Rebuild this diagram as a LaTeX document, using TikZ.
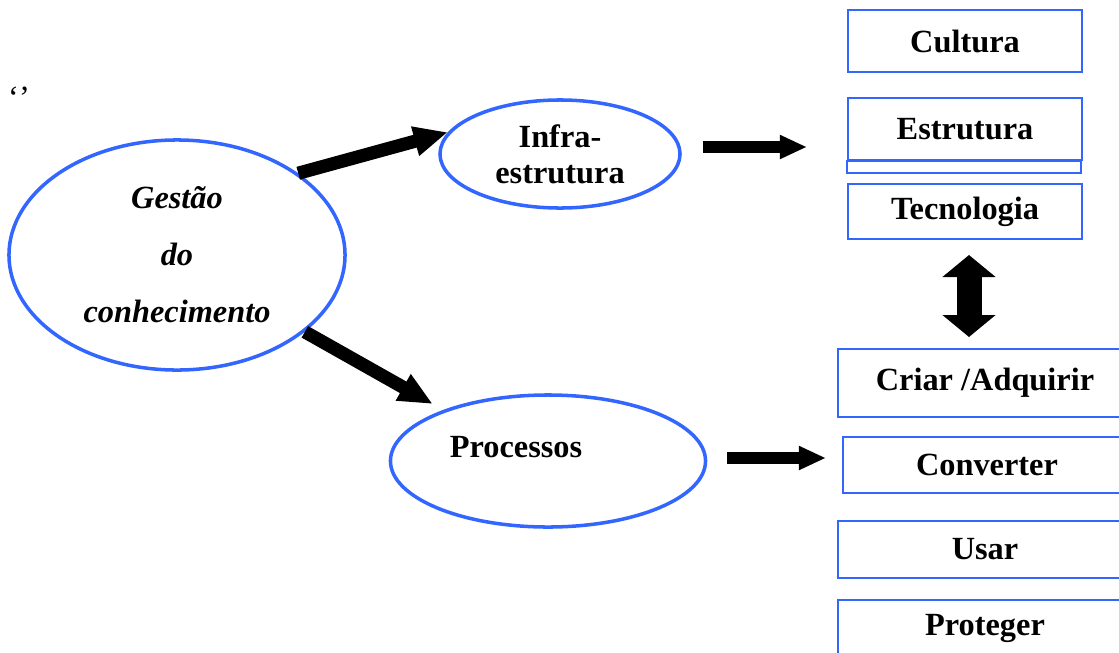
\documentclass[tikz,border=0pt]{standalone}
\usepackage{fontspec}
\setmainfont{Liberation Serif}
\usetikzlibrary{shapes.geometric,arrows.meta}
\definecolor{contorno}{RGB}{51,102,255}

\begin{document}
\begin{tikzpicture}[x=0.025cm, y=-0.025cm,
	caixa/.style={draw=contorno, line width=1.4pt, rectangle, inner sep=0pt,
		font=\fontsize{23}{26}\selectfont\bfseries},
	elipse/.style={draw=contorno, line width=2.5pt, ellipse, inner sep=0pt},
	seta/.style={line width=0.33cm, -{Triangle[length=0.85cm, width=0.7cm]}},
	setareta/.style={line width=0.28cm, -{Triangle[length=0.68cm, width=0.56cm]}},
	dupla/.style={line width=0.625cm, {Triangle[length=0.55cm, width=1.3cm]}-{Triangle[length=0.55cm, width=1.3cm]}}]
	\useasboundingbox (0,0) rectangle (1119,652);
	\clip (0,0) rectangle (1119,652);

	\node[font=\fontsize{23}{26}\selectfont] (aspas) at (19,98) {‘’};

	% elipses
	\node[elipse, minimum width=8.4cm, minimum height=5.75cm, align=center,
		font=\fontsize{23}{40.5}\selectfont\bfseries\itshape] (gestao) at (177,255)
		{Gestão\\do\\conhecimento};
	\node[elipse, minimum width=6cm, minimum height=2.7cm, align=center,
		font=\fontsize{23}{25.5}\selectfont\bfseries] (infra) at (560,154) {Infra-\\estrutura};
	\node[elipse, minimum width=7.875cm, minimum height=3.3cm] (processos) at (548,461) {};
	\node[font=\fontsize{23}{26}\selectfont\bfseries] (proclbl) at (516,447) {Processos};

	% infra-estrutura
	\node[caixa, minimum width=5.85cm, minimum height=1.55cm] (cultura) at (965,41) {Cultura};
	\node[caixa, minimum width=5.85cm, minimum height=1.55cm] (estrutura) at (965,129) {Estrutura};
	\draw[contorno, line width=1.4pt] (estrutura.south west) rectangle ++(234,12);
	\node[caixa, minimum width=5.85cm, minimum height=1.375cm] (tecnologia) at (965,211.5) {Tecnologia};

	% processos
	\node[caixa, minimum width=7.35cm, minimum height=1.7cm] (criar) at (985,383) {Criar /Adquirir};
	\node[caixa, minimum width=7.2cm, minimum height=1.4cm] (converter) at (987,465) {Converter};
	\node[caixa, minimum width=7.35cm, minimum height=1.425cm] (usar) at (985,549.5) {Usar};
	\node[caixa, minimum width=7.35cm, minimum height=1.425cm] (proteger) at (985,628.5) {Proteger};

	% setas
	\draw[seta] (gestao.34) -- (infra.169);
	\draw[seta, shorten >=0.3cm] (gestao.-31) -- (processos.154);

	\coordinate (s1) at (703,147);
	\coordinate (e1) at (807,147);
	\draw[setareta] (s1) -- (e1);
	\coordinate (s2) at (727,458);
	\coordinate (e2) at (826,458);
	\draw[setareta] (s2) -- (e2);

	\coordinate (d1) at (969,255);
	\coordinate (d2) at (969,337);
	\draw[dupla] (d1) -- (d2);
\end{tikzpicture}
\end{document}
